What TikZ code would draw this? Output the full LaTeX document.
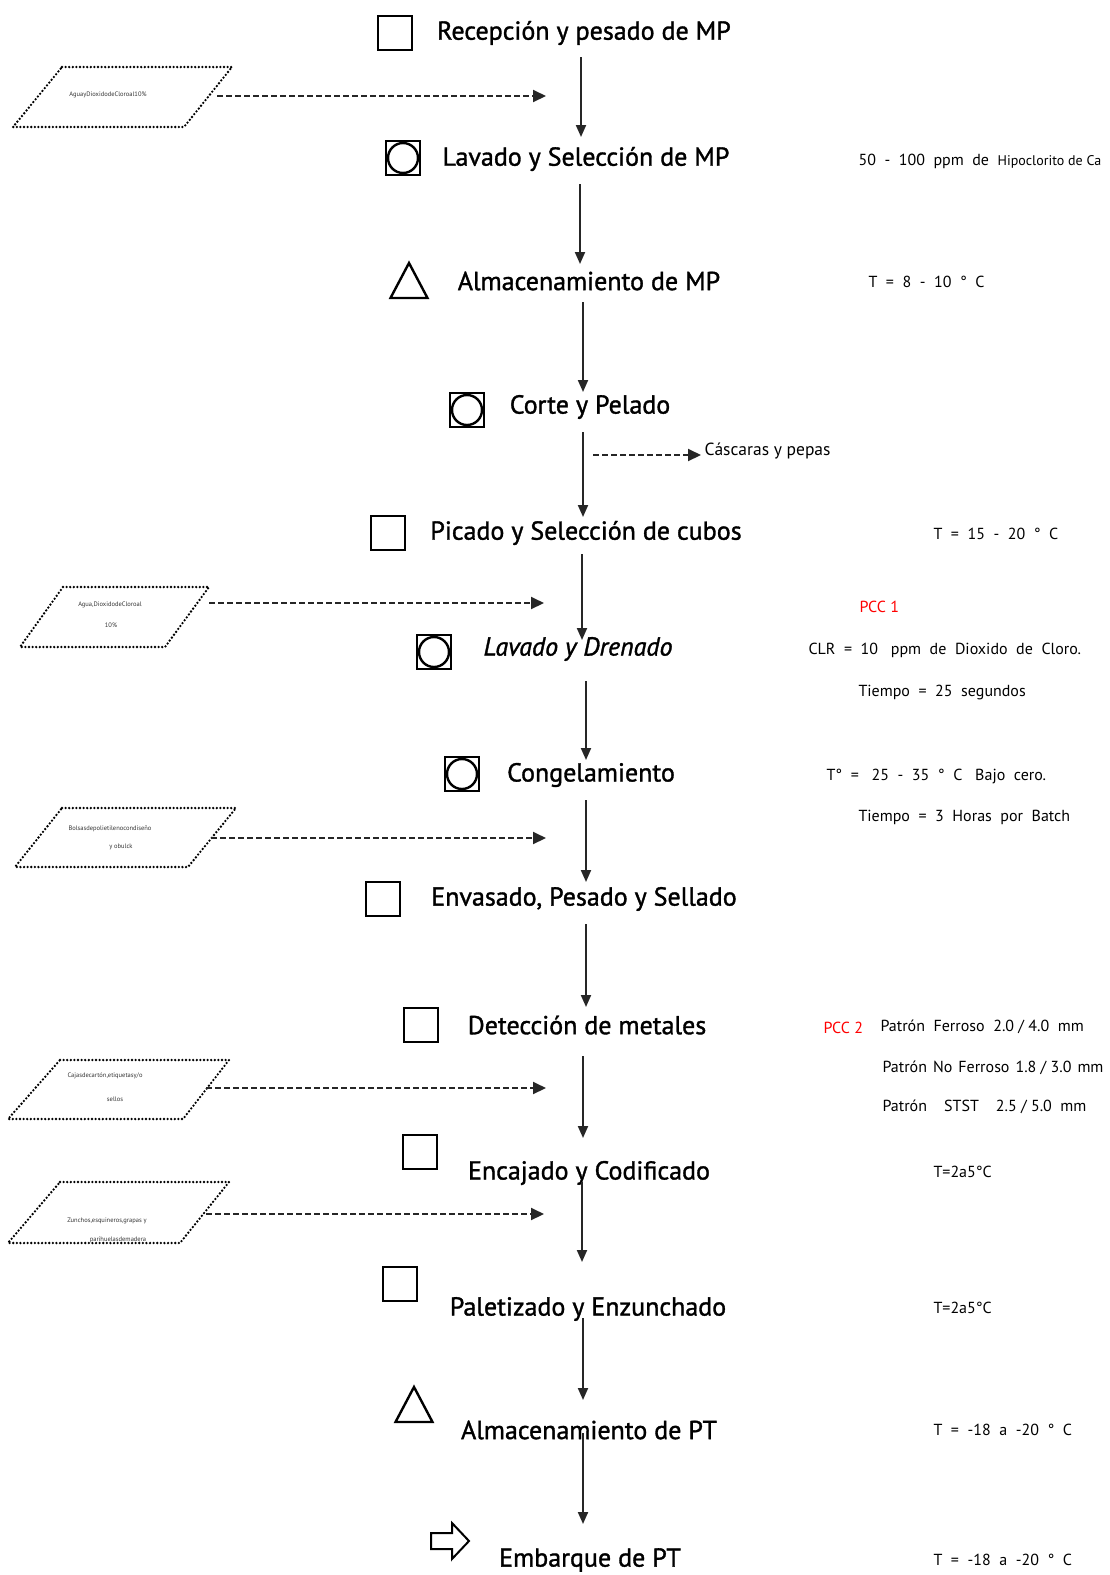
\documentclass[tikz,border=0pt]{standalone}
\usepackage{fontspec}
\setmainfont{PT Sans}
\newfontfamily\stagefont[FakeBold=1.3]{PT Sans}
\usetikzlibrary{arrows.meta}

\begin{document}
\begin{tikzpicture}[x=1pt, y=-1pt,
    stage/.style={font=\stagefont\fontsize{26}{28}\selectfont},
    note/.style={anchor=west, font=\fontsize{16}{18}\selectfont},
    pcc/.style={note, text=red},
    tiny/.style={font=\fontsize{6.5}{7}\selectfont, inner sep=0pt, text=black!80},
    flow/.style={-{Triangle[length=12pt, width=10pt]}, line width=2pt, black!85},
    feed/.style={-{Triangle[length=13pt, width=12pt]}, line width=2pt, black!85, dash pattern=on 6pt off 3pt},
    input/.style={line width=2.6pt, dash pattern=on 0pt off 3.6pt, line cap=round},
    symline/.style={line width=2.4pt},
    opbox/.style={draw, symline, minimum size=34pt, inner sep=0pt}]

    \useasboundingbox (0,0) rectangle (1110,1575);

    % Stages
    \node[stage] (recep) at (584,33) {Recepción y pesado de MP};
    \node[stage] (lavmp) at (586,159) {Lavado y Selección de MP};
    \node[stage] (almmp) at (589,281) {Almacenamiento de MP};
    \node[stage] (corte) at (590,407) {Corte y Pelado};
    \node[stage] (picado) at (586,533) {Picado y Selección de cubos};
    \node[stage, font=\stagefont\itshape\fontsize{26}{28}\selectfont] (drenado) at (578,649) {Lavado y Drenado};
    \node[stage] (congel) at (591,775) {Congelamiento};
    \node[stage] (envas) at (584,899) {Envasado, Pesado y Sellado};
    \node[stage] (detec) at (587,1025) {Detección de metales};
    \node[stage] (encaj) at (589,1173) {Encajado y Codificado};
    \node[stage] (palet) at (588,1309) {Paletizado y Enzunchado};
    \node[stage] (almpt) at (589,1430) {Almacenamiento de PT};
    \node[stage] (embar) at (590,1560) {Embarque de PT};

    % Symbols
    \node[opbox] (sym1) at (395,33) {};
    \node[opbox] (sym2) at (403,158) {};
    \draw[symline] (sym2) circle (15pt);
    \coordinate (sym3) at (409,281);
    \draw[symline] (sym3) ++(-18.5,17) -- ++(18.5,-35) -- ++(18.5,35) -- cycle;
    \node[opbox] (sym4) at (467,410) {};
    \draw[symline] (sym4) circle (15pt);
    \node[opbox] (sym5) at (388,533) {};
    \node[opbox] (sym6) at (434,652) {};
    \draw[symline] (sym6) circle (15pt);
    \node[opbox] (sym7) at (462,774) {};
    \draw[symline] (sym7) circle (15pt);
    \node[opbox] (sym8) at (383,899) {};
    \node[opbox] (sym9) at (421,1025) {};
    \node[opbox] (sym10) at (420,1152) {};
    \node[opbox] (sym11) at (400,1284) {};
    \coordinate (sym12) at (414,1405);
    \draw[symline] (sym12) ++(-18.5,17) -- ++(18.5,-35) -- ++(18.5,35) -- cycle;
    \coordinate (sym13) at (450,1541);
    \draw[line width=2pt, line join=miter] (sym13) ++(-19,-8) -- ++(21,0) -- ++(0,-10)
        -- ++(17,18) -- ++(-17,18) -- ++(0,-10) -- ++(-21,0) -- cycle;

    % Flow arrows
    \coordinate (f1) at (581,57);   \coordinate (t1) at (581,137);
    \coordinate (f2) at (580,184);  \coordinate (t2) at (580,264);
    \coordinate (f3) at (583,302);  \coordinate (t3) at (583,392);
    \coordinate (f4) at (583,432);  \coordinate (t4) at (583,517);
    \coordinate (f5) at (582,554);  \coordinate (t5) at (582,640);
    \coordinate (f6) at (586,681);  \coordinate (t6) at (586,760);
    \coordinate (f7) at (586,800);  \coordinate (t7) at (586,882);
    \coordinate (f8) at (586,924);  \coordinate (t8) at (586,1007);
    \coordinate (f9) at (583,1056); \coordinate (t9) at (583,1138);
    \coordinate (f10) at (582,1182); \coordinate (t10) at (582,1262);
    \coordinate (f11) at (583,1318); \coordinate (t11) at (583,1400);
    \coordinate (f12) at (583,1433); \coordinate (t12) at (583,1524);
    \draw[flow] (f1) -- (t1);
    \draw[flow] (f2) -- (t2);
    \draw[flow] (f3) -- (t3);
    \draw[flow] (f4) -- (t4);
    \draw[flow] (f5) -- (t5);
    \draw[flow] (f6) -- (t6);
    \draw[flow] (f7) -- (t7);
    \draw[flow] (f8) -- (t8);
    \draw[flow] (f9) -- (t9);
    \draw[flow] (f10) -- (t10);
    \draw[flow] (f11) -- (t11);
    \draw[flow] (f12) -- (t12);

    % Inputs
    \draw[input] (62,67) -- (232,67) -- (184,127) -- (13,127) -- cycle;
    \node[tiny] (in1) at (108,95) {AguayDioxidodeCloroal10\%};
    \coordinate (in1e) at (217,96);   \coordinate (in1t) at (546,96);
    \draw[feed] (in1e) -- (in1t);

    \draw[input] (63,587) -- (209,587) -- (165,647) -- (20,647) -- cycle;
    \node[tiny] (in2) at (110,605) {Agua,DioxidodeCloroal};
    \node[tiny] (in2b) at (111,625) {10\%};
    \coordinate (in2e) at (209,603);  \coordinate (in2t) at (544,603);
    \draw[feed] (in2e) -- (in2t);

    \draw[input] (62,808) -- (236,808) -- (188,867) -- (15,867) -- cycle;
    \node[tiny] (in3) at (110,829) {Bolsasdepolietilenocondiseño};
    \node[tiny] (in3b) at (121,847) {y obulck};
    \coordinate (in3e) at (211,838);  \coordinate (in3t) at (546,838);
    \draw[feed] (in3e) -- (in3t);

    \draw[input] (60,1060) -- (229,1060) -- (183,1119) -- (8,1119) -- cycle;
    \node[tiny] (in4) at (105,1076) {Cajasdecartón,etiquetasy/o};
    \node[tiny] (in4b) at (115,1099) {sellos};
    \coordinate (in4e) at (206,1088); \coordinate (in4t) at (546,1088);
    \draw[feed] (in4e) -- (in4t);

    \draw[input] (60,1182) -- (229,1182) -- (180,1243) -- (8,1243) -- cycle;
    \node[tiny] (in5) at (107,1221) {Zunchos,esquineros,grapas y};
    \node[tiny] (in5b) at (118,1240) {parihuelasdemadera};
    \coordinate (in5e) at (206,1214); \coordinate (in5t) at (544,1214);
    \draw[feed] (in5e) -- (in5t);

    % Waste
    \coordinate (w1) at (593,455);
    \node[note, anchor=west, font=\fontsize{17.5}{19}\selectfont] (waste) at (701,451) {Cáscaras y pepas};
    \draw[feed] (w1) -- (w1 -| waste.west);

    % Parameters
    \node[note] (p2) at (855,161) {50 \ - \ 100 \ ppm \ de \ {\fontsize{14}{16}\selectfont Hipoclorito de Ca}};
    \node[note] (p3) at (865,282) {T \ = \ 8 \ - \ 10 \ ° \ C};
    \node[note] (p5) at (930,534) {T \ = \ 15 \ - \ 20 \ ° \ C};
    \node[pcc] (pcc1) at (856,607) {PCC 1};
    \node[note] (p6a) at (805,650) {CLR \ = \ 10 \ \ ppm \ de \ Dioxido \ de \ Cloro.};
    \node[note] (p6b) at (855,692) {Tiempo \ = \ 25 \ segundos};
    \node[note] (p7a) at (823,776) {T° \ = \ \ 25 \ - \ 35 \ ° \ C \ \ Bajo \ cero.};
    \node[note] (p7b) at (855,817) {Tiempo \ = \ 3 \ Horas \ por \ Batch};
    \node[pcc] (pcc2) at (820,1028) {PCC 2};
    \node[note] (p9a) at (877,1027) {Patrón \ Ferroso \ 2.0 / 4.0 \ mm};
    \node[note] (p9b) at (879,1068) {Patrón\hspace{6pt}No\hspace{6pt}Ferroso\hspace{6pt}1.8 / 3.0\hspace{6pt}mm};
    \node[note] (p9c) at (879,1107) {Patrón \ \ \ STST \ \ \ 2.5 / 5.0 \ mm};
    \node[note] (p10) at (930,1172) {T=2a5°C};
    \node[note] (p11) at (930,1308) {T=2a5°C};
    \node[note] (p12) at (930,1430) {T \ = \ -18 \ a \ -20 \ ° \ C};
    \node[note] (p13) at (930,1560) {T \ = \ -18 \ a \ -20 \ ° \ C};

\end{tikzpicture}
\end{document}
